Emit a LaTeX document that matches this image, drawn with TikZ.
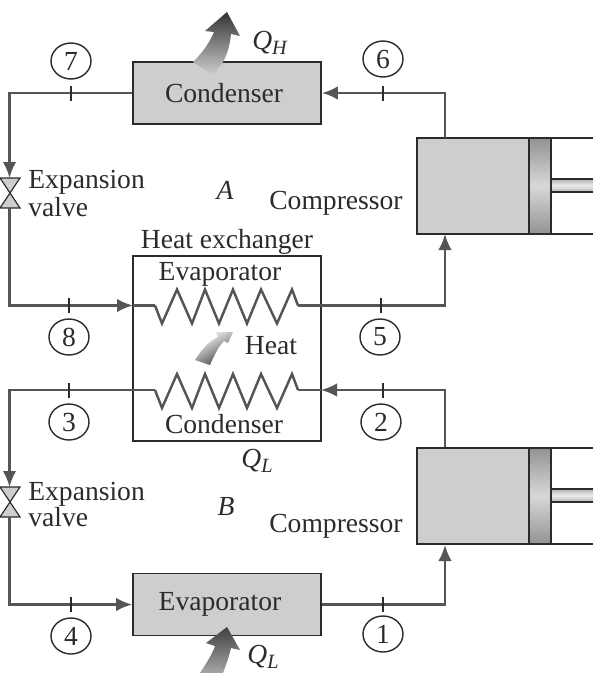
\documentclass[tikz,border=0pt]{standalone}
\usepackage{fontspec}
\setmainfont{Liberation Serif}
\usetikzlibrary{arrows.meta, shapes.geometric}
\definecolor{boxgray}{HTML}{CECECE}
\definecolor{inkgray}{HTML}{2B2B2B}
\definecolor{pipegray}{HTML}{555555}
\newcommand{\heatq}[1]{\textit{Q}\raisebox{-0.35ex}{\fontsize{11.5}{12}\selectfont\textit{#1}}}

\begin{document}
\begin{tikzpicture}[
  x=0.02cm, y=-0.02cm,
  every node/.style={font=\fontsize{15.7}{18}\selectfont, text=inkgray},
  unit/.style={draw=inkgray, line width=1pt, fill=boxgray, minimum width=3.76cm, minimum height=1.24cm, inner sep=0},
  body/.style={draw=inkgray, line width=1pt, fill=boxgray, minimum width=2.24cm, minimum height=1.92cm, inner sep=0},
  state/.style={ellipse, draw=inkgray, line width=0.8pt, minimum width=0.8cm, minimum height=0.72cm, inner sep=0},
  tick/.style={fill=inkgray, minimum width=0.9pt, minimum height=0.3cm, inner sep=0},
  pipe/.style={draw=pipegray, line width=1.4pt},
  flow/.style={pipe, -{Latex[length=3.2mm, width=2.7mm]}},
  wall/.style={draw=inkgray, line width=1pt},
  bow/.style={draw=inkgray, line width=0.7pt, fill=boxgray}
]
\useasboundingbox (0,0) rectangle (593,673);

\node[unit] (condA) at (227,93) {Condenser\hspace*{0.12cm}\null};
\node[unit] (evapB) at (227,604.5) {\raisebox{-2pt}{Evaporator}\hspace*{0.28cm}\null};
\node[draw=inkgray, line width=0.8pt, minimum width=3.76cm, minimum height=3.7cm, inner sep=0] (hx) at (227,348.5) {};

\foreach \y/\n in {186/compA, 496/compB} {
  \node[body] (\n) at (473,\y) {};
  \shade[top color=gray!85, bottom color=gray!85, middle color=boxgray!80, draw=inkgray, line width=1pt] (529,\y-48) rectangle (551,\y+48);
  \draw[wall] (551,\y-48) -- (593,\y-48);
  \draw[wall] (551,\y+48) -- (593,\y+48);
  \shade[top color=gray!60, bottom color=gray!60, middle color=gray!15] (551,\y-7) rectangle (593,\y+6);
  \draw[wall] (593,\y-7) -- (551,\y-7) -- (551,\y+6) -- (593,\y+6);
}

\coordinate (outA) at (445,138);
\coordinate (inA) at (445,234);
\coordinate (outB) at (445,447);
\coordinate (inB) at (445,545);

\foreach \y/\n in {193/valveA, 502/valveB} {
  \filldraw[bow] (0,\y-15) -- (20,\y-15) -- (10,\y) -- cycle;
  \filldraw[bow] (0,\y+15) -- (20,\y+15) -- (10,\y) -- cycle;
  \coordinate (\n top) at (9.5,\y-15);
  \coordinate (\n bot) at (9.5,\y+15);
}

\foreach \y/\n in {305.5/evap, 390/cond} {
  \coordinate (\n L) at (155,\y);
  \coordinate (\n R) at (298,\y);
  \coordinate (\n H) at (321,\y);
  \coordinate (\n W) at (133,\y);
  \draw[pipe, line join=miter] (\n L) -- (162,\y+18) -- (177,\y-16) -- (192,\y+18) -- (205,\y-16) -- (219,\y+18) -- (233,\y-16) -- (247,\y+18) -- (261,\y-16) -- (277,\y+18) -- (292,\y-16) -- (\n R);
}

\draw[flow] (outA) |- (condA.east);
\draw[flow] (condA.west) -| (valveAtop);
\draw[flow] (valveAbot) |- (evapW);
\draw[pipe] (evapW) -- (evapL);
\draw[flow] (evapR) -| (inA);
\draw[flow] (outB) |- (condH);
\draw[pipe] (condH) -- (condR);
\draw[flow] (condL) -| (valveBtop);
\draw[flow] (valveBbot) |- (evapB.west);
\draw[flow] (evapB.east) -| (inB);

\foreach \t/\x/\y in {t7/71/93, t6/383/93, t8/69/305.5, t5/381/305.5, t3/69/390, t2/383/390, t4/71/604.5, t1/383/604.5} {
  \node[tick] (\t) at (\x,\y) {};
}
\node[state] (s7) at (71,61) {7};
\node[state] (s6) at (383,59) {6};
\node[state] (s8) at (69,337) {8};
\node[state] (s5) at (380,337) {5};
\node[state] (s3) at (69,422) {3};
\node[state] (s2) at (381,422) {2};
\node[state] (s4) at (71,636) {4};
\node[state] (s1) at (383,634) {1};

\shade[top color=black!80, bottom color=boxgray] (193,62) .. controls (203,52) and (210,42) .. (214,32) -- (205,31) -- (227,12) -- (240,36) -- (231,34) .. controls (230,45) and (227,55) .. (223,62) -- (213,75) -- cycle;
\shade[top color=black!75, bottom color=gray!70] (200,673) .. controls (205,665) and (212,655) .. (215,646) -- (206,643) -- (227,627) -- (240,650) -- (231,648) .. controls (229,657) and (226,665) .. (223,673) -- cycle;
\shade[left color=white, right color=black!75, shading angle=30] (195,360) .. controls (201,350) and (209,341) .. (218,337) -- (215,332) -- (233,332) -- (228,343) -- (224,341) .. controls (218,347) and (214,356) .. (210,365) -- cycle;

\node (qH) at (270,43) {\heatq{H}};
\node (qLa) at (257,461) {\heatq{L}};
\node (qLb) at (263,657) {\heatq{L}};
\node (cycA) at (225,190) {\textit{A}};
\node (cycB) at (226,507) {\textit{B}};
\node (compAl) at (336,203) {Compressor};
\node (compBl) at (336,526) {Compressor};
\node (heat) at (271,346) {Heat};
\node (hxl) at (227,242) {Heat exchanger};
\node (evapl) at (220,274) {Evaporator};
\node (condl) at (224,424) {Condenser};
\node[anchor=base west, inner sep=0] (expA) at (28,188) {Expansion};
\node[anchor=base west, inner sep=0] (valA) at (28,216) {valve};
\node[anchor=base west, inner sep=0] (expB) at (28,500) {Expansion};
\node[anchor=base west, inner sep=0] (valB) at (28,526) {valve};
\end{tikzpicture}
\end{document}
